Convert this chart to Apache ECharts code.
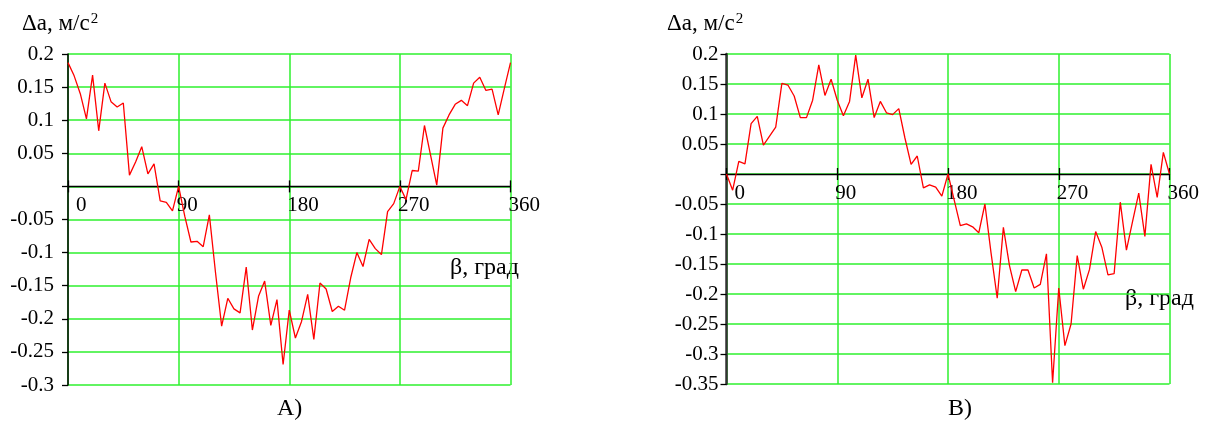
<!DOCTYPE html>
<html>
<head>
<meta charset="utf-8">
<script src="https://cdn.jsdelivr.net/npm/echarts@6/dist/echarts.min.js"></script>
<style>
html,body{margin:0;padding:0;background:#fff;}
#c{width:1211px;height:421px;}
</style>
</head>
<body>
<div id="c"></div>
<script>
// Angle β, degrees
const angles = [0,5,10,15,20,25,30,35,40,45,50,55,60,65,70,75,80,85,90,95,100,105,110,115,120,125,130,135,140,145,150,155,160,165,170,175,180,185,190,195,200,205,210,215,220,225,230,235,240,245,250,255,260,265,270,275,280,285,290,295,300,305,310,315,320,325,330,335,340,345,350,355,360];
// Chart A: Δa, m/s^2
const valuesA = [0.187,0.167,0.140,0.102,0.168,0.084,0.156,0.128,0.120,0.126,0.017,0.037,0.060,0.019,0.034,-0.022,-0.024,-0.037,0.000,-0.045,-0.084,-0.083,-0.091,-0.043,-0.130,-0.211,-0.169,-0.185,-0.191,-0.122,-0.217,-0.166,-0.143,-0.210,-0.171,-0.269,-0.187,-0.229,-0.204,-0.163,-0.231,-0.146,-0.155,-0.189,-0.181,-0.187,-0.138,-0.100,-0.121,-0.080,-0.094,-0.103,-0.038,-0.026,0.000,-0.020,0.024,0.023,0.092,0.047,0.002,0.088,0.108,0.124,0.130,0.122,0.156,0.165,0.145,0.147,0.108,0.148,0.187];
// Chart B: Δa, m/s^2
const valuesB = [0.000,-0.027,0.021,0.017,0.084,0.096,0.048,0.063,0.078,0.151,0.148,0.130,0.094,0.094,0.123,0.182,0.131,0.158,0.123,0.097,0.121,0.198,0.127,0.158,0.094,0.121,0.102,0.099,0.109,0.060,0.016,0.030,-0.023,-0.018,-0.022,-0.037,0.000,-0.043,-0.086,-0.083,-0.088,-0.098,-0.050,-0.132,-0.207,-0.089,-0.153,-0.196,-0.160,-0.160,-0.190,-0.184,-0.133,-0.348,-0.190,-0.286,-0.250,-0.136,-0.192,-0.159,-0.096,-0.122,-0.168,-0.166,-0.047,-0.127,-0.079,-0.032,-0.104,0.016,-0.039,0.036,0.000];
const xTicks = {min: 0, max: 360, interval: 90};
const yRangeA = {min: -0.3, max: 0.2, interval: 0.05};
const yRangeB = {min: -0.35, max: 0.2, interval: 0.05};
const yName = 'Δa, м/с';
const xName = 'β, град';
const panelTitles = ['A)', 'B)'];

const FONT = '"Liberation Serif", "Times New Roman", serif';
const GREEN = '#2ef02e';
const RED = '#ff0000';

const grids = [
  {left:68, top:54, width:442.5, height:331},
  {left:726.5, top:54, width:443, height:330}
];

function yFmt(v){ if (Math.abs(v) < 1e-9) return ''; return String(parseFloat(v.toFixed(2))); }
function xFmt(v){ return v === 0 ? '{z|0}' : '{n|' + v + '}'; }

function xAxesFor(g, r){
  // distance of the zero line from the bottom of the grid
  const zeroOff = grids[g].height * (0 - r.min) / (r.max - r.min);
  return [
    { // grid lines
      type:'value', gridIndex:g, min:xTicks.min, max:xTicks.max, interval:xTicks.interval,
      axisLine:{show:false, onZero:false}, axisTick:{show:false}, axisLabel:{show:false},
      splitLine:{show:true, lineStyle:{color:GREEN, width:1.5}}, z:1
    },
    { // axis line at zero, downward ticks, labels
      type:'value', gridIndex:g, position:'bottom', offset:-zeroOff, min:xTicks.min, max:xTicks.max, interval:xTicks.interval,
      axisLine:{show:true, onZero:false, lineStyle:{color:'#000', width:1.3}},
      axisTick:{show:true, inside:false, length:6, lineStyle:{color:'#000', width:1.3}},
      axisLabel:{show:true, margin:9, align:'left', formatter:xFmt,
        rich:{ z:{fontFamily:FONT, fontSize:21, color:'#000', padding:[0,0,0,8]},
               n:{fontFamily:FONT, fontSize:21, color:'#000', padding:[0,0,0,-2]} } },
      splitLine:{show:false}, z:3
    },
    { // upward ticks
      type:'value', gridIndex:g, position:'bottom', offset:-zeroOff, min:xTicks.min, max:xTicks.max, interval:xTicks.interval,
      axisLine:{show:false, onZero:false},
      axisTick:{show:true, inside:true, length:6, lineStyle:{color:'#000', width:1.3}},
      axisLabel:{show:false}, splitLine:{show:false}, z:3
    }
  ];
}
function yAxisFor(g, r, margin, lw, lc){
  return {
    type:'value', gridIndex:g, min:r.min, max:r.max, interval:r.interval,
    axisLine:{show:true, onZero:false, lineStyle:{color:lc, width:lw}},
    axisTick:{show:true, inside:false, length:6, lineStyle:{color:'#000', width:1.3}},
    axisLabel:{show:true, margin:margin, formatter:yFmt, fontFamily:FONT, fontSize:21, color:'#000', padding:[5,0,0,0]},
    splitLine:{show:true, lineStyle:{color:GREEN, width:1.5}}, z:2
  };
}

const supRich = {
  m:{fontFamily:FONT, fontSize:23, color:'#000', verticalAlign:'bottom'},
  s:{fontFamily:FONT, fontSize:15, color:'#000', verticalAlign:'top', padding:[0,0,0,1]}
};

const chart = echarts.init(document.getElementById('c'), null, {renderer:'canvas'});
const option = {
  animation:false,
  backgroundColor:'#fff',
  grid: grids,
  xAxis: xAxesFor(0, yRangeA).concat(xAxesFor(1, yRangeB)),
  yAxis: [yAxisFor(0, yRangeA, 14, 1.5, '#000'), yAxisFor(1, yRangeB, 8, 2.5, '#333')],
  series:[
    {type:'line', xAxisIndex:0, yAxisIndex:0, showSymbol:false, symbol:'none', z:10,
     lineStyle:{color:RED, width:1.3}, data: angles.map((a,i)=>[a, valuesA[i]])},
    {type:'line', xAxisIndex:3, yAxisIndex:1, showSymbol:false, symbol:'none', z:10,
     lineStyle:{color:RED, width:1.3}, data: angles.map((a,i)=>[a, valuesB[i]])}
  ],
  graphic:[
    {type:'text', left:22, top:12, style:{text:'{m|'+yName+'}{s|2}', rich:supRich}},
    {type:'text', left:667, top:12, style:{text:'{m|'+yName+'}{s|2}', rich:supRich}},
    {type:'text', left:450, top:256, style:{text:xName, fontFamily:FONT, fontSize:24, fill:'#000'}},
    {type:'text', left:1125, top:287, style:{text:xName, fontFamily:FONT, fontSize:24, fill:'#000'}},
    {type:'text', left:277, top:397, style:{text:panelTitles[0], fontFamily:FONT, fontSize:24, fill:'#000'}},
    {type:'text', left:948, top:397, style:{text:panelTitles[1], fontFamily:FONT, fontSize:24, fill:'#000'}}
  ]
};
chart.setOption(option);
</script>
</body>
</html>
